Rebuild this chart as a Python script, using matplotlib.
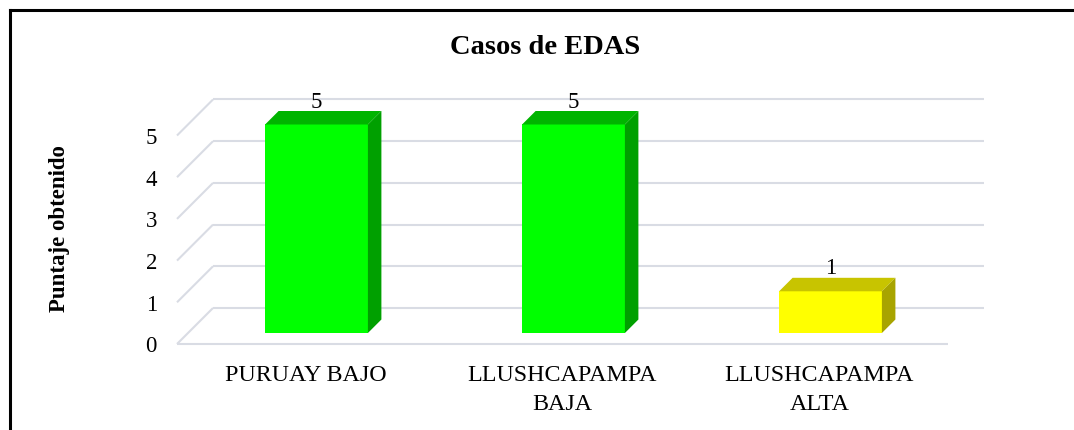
import matplotlib
matplotlib.use("Agg")
import matplotlib.pyplot as plt
from matplotlib.patches import Polygon
from matplotlib.lines import Line2D

# ---- data ----
categories = ["PURUAY BAJO", "LLUSHCAPAMPA\nBAJA", "LLUSHCAPAMPA\nALTA"]
values = [5, 5, 1]
front_colors = ["#00ff00", "#00ff00", "#ffff00"]
top_colors = ["#00b400", "#00b400", "#c8c400"]
side_colors = ["#00a000", "#00a000", "#a8a400"]
yticks = [0, 1, 2, 3, 4, 5]
title = "Casos de EDAS"
ylabel = "Puntaje obtenido"

W, H = 1074, 430
fig = plt.figure(figsize=(W / 100, H / 100), dpi=100)
ax = fig.add_axes([0, 0, 1, 1])
ax.axis("off")

# pixel scale of the pseudo-3D axes
PX_X = 257.0   # px per category
PX_Y = 41.7    # px per unit value
X0_PX = 177.0  # front-left corner (x = -0.5)
Y0_PX = 344.0  # front floor line (value 0), from top
ax.set_xlim(-0.5 - X0_PX / PX_X, -0.5 + (W - X0_PX) / PX_X)
ax.set_ylim(-(H - Y0_PX) / PX_Y, Y0_PX / PX_Y)

def dx(px):
    return px / PX_X

def dy(px):
    return px / PX_Y

DEPTH = 36.0
FRONT = 11.0
BDEPTH = 13.5
BAR_W = 0.40
n = len(categories)
xl, xr = -0.5, n - 0.5

grid_kw = dict(color="#d9dce4", lw=1.5, zorder=1, solid_capstyle="butt")
for v in yticks:
    # back wall line
    ax.plot([xl + dx(DEPTH), xr + dx(DEPTH)], [v + dy(DEPTH), v + dy(DEPTH)], **grid_kw)
    # side wall diagonal
    ax.plot([xl, xl + dx(DEPTH)], [v, v + dy(DEPTH)], **grid_kw)
    ax.text(xl - dx(20), v - dy(3), str(v), ha="right", va="center",
            fontsize=16.5, family="Liberation Serif", color="black")
# floor front edge
ax.plot([xl, xr], [0, 0], **grid_kw)

for i, (v, fc, tc, sc) in enumerate(zip(values, front_colors, top_colors, side_colors)):
    cx = i + dx(FRONT)
    b = dy(FRONT)
    l, r = cx - BAR_W / 2, cx + BAR_W / 2
    t = v + b
    ddx, ddy = dx(BDEPTH), dy(BDEPTH)
    ax.add_patch(Polygon([(l, b), (r, b), (r, t), (l, t)], closed=True,
                         facecolor=fc, edgecolor="none", zorder=3))
    ax.add_patch(Polygon([(l, t), (r, t), (r + ddx, t + ddy), (l + ddx, t + ddy)],
                         closed=True, facecolor=tc, edgecolor="none", zorder=3))
    ax.add_patch(Polygon([(r, b), (r, t), (r + ddx, t + ddy), (r + ddx, b + ddy)],
                         closed=True, facecolor=sc, edgecolor="none", zorder=3))
    ax.text(cx, t + ddy + dy(3.5), str(v), ha="center", va="baseline",
            fontsize=16.5, family="Liberation Serif", color="black", zorder=4)

for i, c in enumerate(categories):
    for k, line in enumerate(c.split("\n")):
        ax.text(i, -dy(381 - Y0_PX + 29 * k), line, ha="center", va="baseline",
                fontsize=17.3, family="Liberation Serif", color="black")

# title and axis label (figure coordinates)
fig.text(545 / W, 1 - 54.5 / H, title, ha="center", va="baseline",
         fontsize=20.5, fontweight="bold", family="Liberation Serif")
fig.text(59 / W, 1 - 229 / H, ylabel, ha="center", va="center", rotation=90,
         fontsize=16.5, fontweight="bold", family="Liberation Serif")

# outer frame (top and left edges)
fig.add_artist(Line2D([9.5 / W, 1.0], [1 - 9.5 / H, 1 - 9.5 / H], color="black", lw=2.2,
                      transform=fig.transFigure))
fig.add_artist(Line2D([9.5 / W, 9.5 / W], [0, 1 - 9.5 / H], color="black", lw=2.2,
                      transform=fig.transFigure))

fig.savefig("out.png", dpi=100)
